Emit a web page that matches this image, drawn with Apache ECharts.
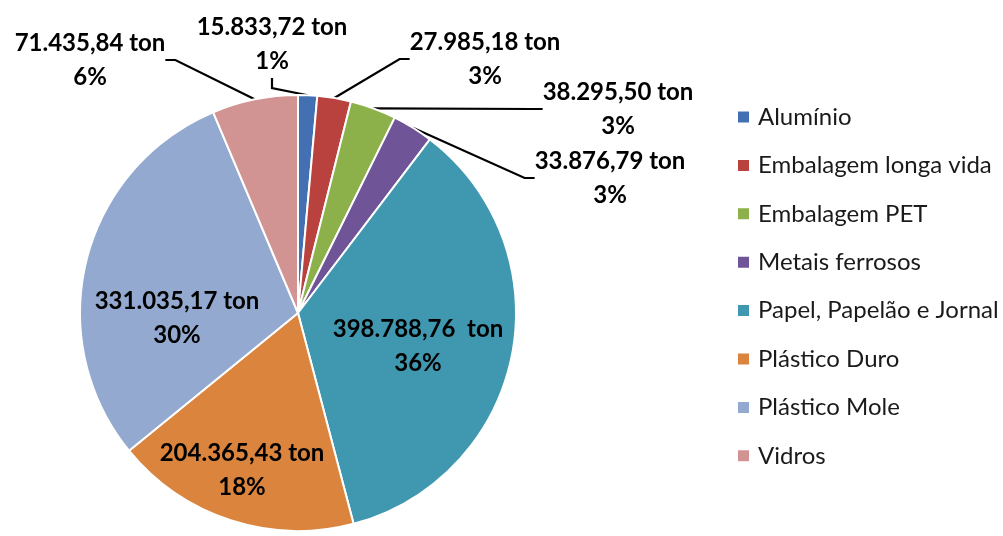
<!DOCTYPE html>
<html><head><meta charset="utf-8">
<script src="https://cdn.jsdelivr.net/npm/echarts@6/dist/echarts.min.js"></script>
<style>html,body{margin:0;padding:0;background:#fff}#c{width:1003px;height:536px}</style>
</head><body><div id="c"></div>
<script>
const categories = ['Alumínio','Embalagem longa vida','Embalagem PET','Metais ferrosos','Papel, Papelão e Jornal','Plástico Duro','Plástico Mole','Vidros'];
const tonnage = [15833.72, 27985.18, 38295.50, 33876.79, 398788.76, 204365.43, 331035.17, 71435.84];
const percentLabels = ['1%','3%','3%','3%','36%','18%','30%','6%'];
const unitSuffix = [' ton',' ton',' ton',' ton','  ton',' ton',' ton',' ton'];

// styling
const colors = ['#4270B2','#B9413E','#8DB14A','#6F5497','#4098B0','#DB843D','#93A9D0','#D29492'];
const insideSlices = [4,5,6];
const labelPos = {0:[272,44],1:[485,59],2:[618,109],3:[610,178],4:[418,346],5:[242,470],6:[177,318],7:[90,60]};

function fmt(v){
  const parts = v.toFixed(2).split('.');
  return parts[0].replace(/\B(?=(\d{3})+(?!\d))/g,'.') + ',' + parts[1];
}

const chart = echarts.init(document.getElementById('c'), null, {renderer:'canvas'});
chart.setOption({
  animation:false,
  backgroundColor:'#fff',
  color:colors,
  legend:{
    orient:'vertical', left:731, top:100,
    itemWidth:13, itemHeight:13, itemGap:24.4, icon:'rect',
    textStyle:{fontFamily:'Lato', fontSize:24, color:'#1a1a1a', lineHeight:24, padding:[0,0,0,3]},
    data:categories
  },
  series:[{
    type:'pie', center:[298,313], radius:218, startAngle:90, clockwise:true,
    avoidLabelOverlap:false,
    itemStyle:{borderColor:'#fff', borderWidth:2},
    label:{
      show:true,
      formatter:p => fmt(p.value) + unitSuffix[p.dataIndex] + '\n' + percentLabels[p.dataIndex],
      fontFamily:'Lato', fontWeight:'bold', fontSize:24, color:'#000', lineHeight:34, align:'center'
    },
    labelLine:{show:true, length:20, length2:10, lineStyle:{color:'#000', width:2.2}},
    labelLayout:p => ({x:labelPos[p.dataIndex][0], y:labelPos[p.dataIndex][1], align:'center', verticalAlign:'middle'}),
    emphasis:{disabled:true},
    data:categories.map((n,i) => {
      const inside = insideSlices.indexOf(i) >= 0;
      return {name:n, value:tonnage[i], label:{position: inside ? 'inside' : 'outside'}, labelLine:{show:!inside}};
    })
  }]
});
</script>
</body></html>
